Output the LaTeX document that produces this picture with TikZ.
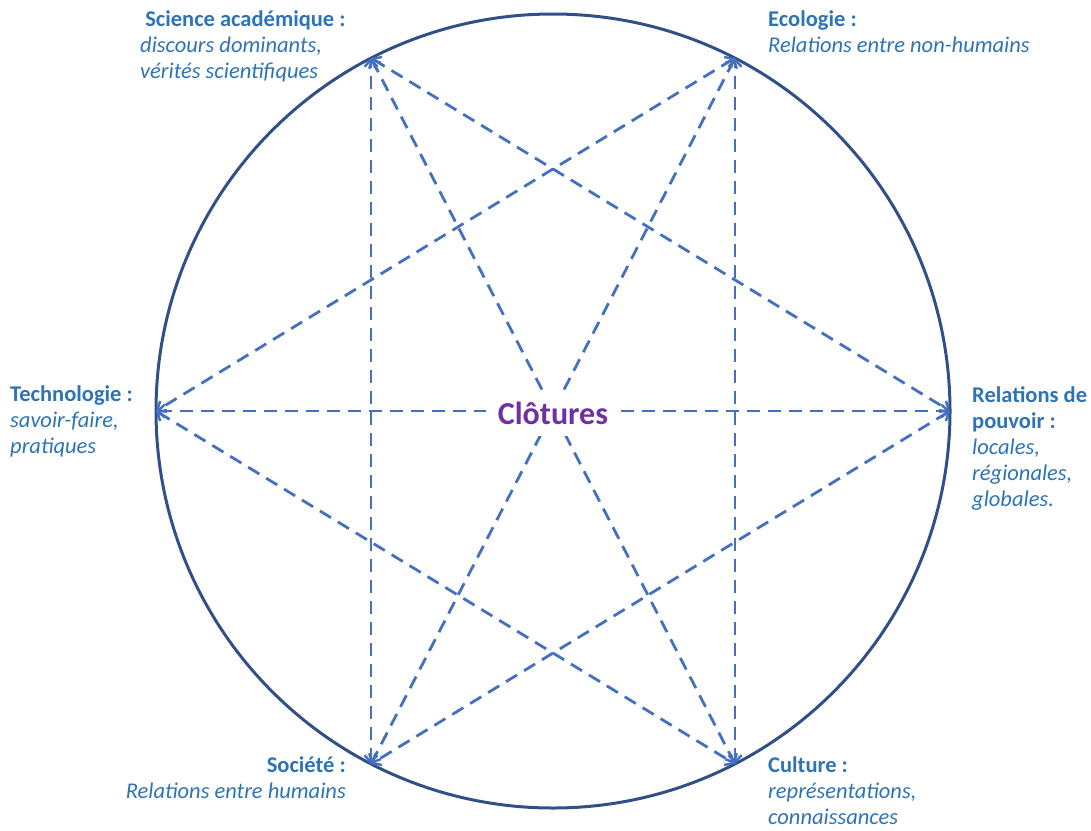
\documentclass[tikz,border=0pt]{standalone}
\usepackage{fontspec}
\setmainfont{Carlito}
\usetikzlibrary{arrows.meta}
\definecolor{ringc}{RGB}{50,80,136}
\definecolor{linec}{RGB}{68,112,190}
\definecolor{txtc}{RGB}{46,116,181}
\definecolor{purp}{RGB}{112,48,160}
\tikzset{
  link/.style={draw=linec, line width=2.8pt, dash pattern=on 13pt off 8pt,
    {Straight Barb[length=7pt,width=13pt,line width=2.4pt]}-{Straight Barb[length=7pt,width=13pt,line width=2.4pt]}},
  lab/.style={text=txtc, font=\fontsize{22.5}{26}\selectfont, inner sep=0pt},
}
\begin{document}
\begin{tikzpicture}[x=1pt,y=-1pt]
\useasboundingbox (0,0) rectangle (1091,830);
\coordinate (c) at (553,411);
\draw[ringc, line width=3pt] (c) circle[radius=397pt];
\coordinate (sci) at (371,58);
\coordinate (eco) at (735,58);
\coordinate (pow) at (950,411);
\coordinate (cul) at (735,764);
\coordinate (soc) at (371,764);
\coordinate (tec) at (156,411);
\draw[link] (soc) -- (sci);
\draw[link] (cul) -- (eco);
\draw[link] (tec) -- (pow);
\draw[link] (sci) -- (pow);
\draw[link] (sci) -- (cul);
\draw[link] (eco) -- (tec);
\draw[link] (eco) -- (soc);
\draw[link] (tec) -- (cul);
\draw[link] (pow) -- (soc);
\node[fill=white, inner xsep=12pt, inner ysep=12pt, text=purp, font=\fontsize{32}{34}\selectfont\bfseries] (clo) at (553,413) {Clôtures};
\node[lab, anchor=north west, align=left] (tsci) at (140,11) {{\bfseries\ Science académique :}\\\itshape discours dominants,\\\itshape vérités scientifiques};
\node[lab, anchor=north west, align=left] (teco) at (768,11) {{\bfseries Ecologie :}\\\itshape Relations entre non-humains};
\node[lab, anchor=north west, align=left] (ttec) at (10,386) {{\bfseries Technologie :}\\\itshape savoir-faire,\\\itshape pratiques};
\node[lab, anchor=north west, align=left] (tpow) at (972,386) {{\bfseries Relations de}\\{\bfseries pouvoir :}\\\itshape locales,\\\itshape régionales,\\\itshape globales.};
\node[lab, anchor=north east, align=right] (tsoc) at (346,756) {{\bfseries Société :}\\\itshape Relations entre humains};
\node[lab, anchor=north west, align=left] (tcul) at (768,756) {{\bfseries Culture :}\\\itshape représentations,\\\itshape connaissances};
\end{tikzpicture}
\end{document}
